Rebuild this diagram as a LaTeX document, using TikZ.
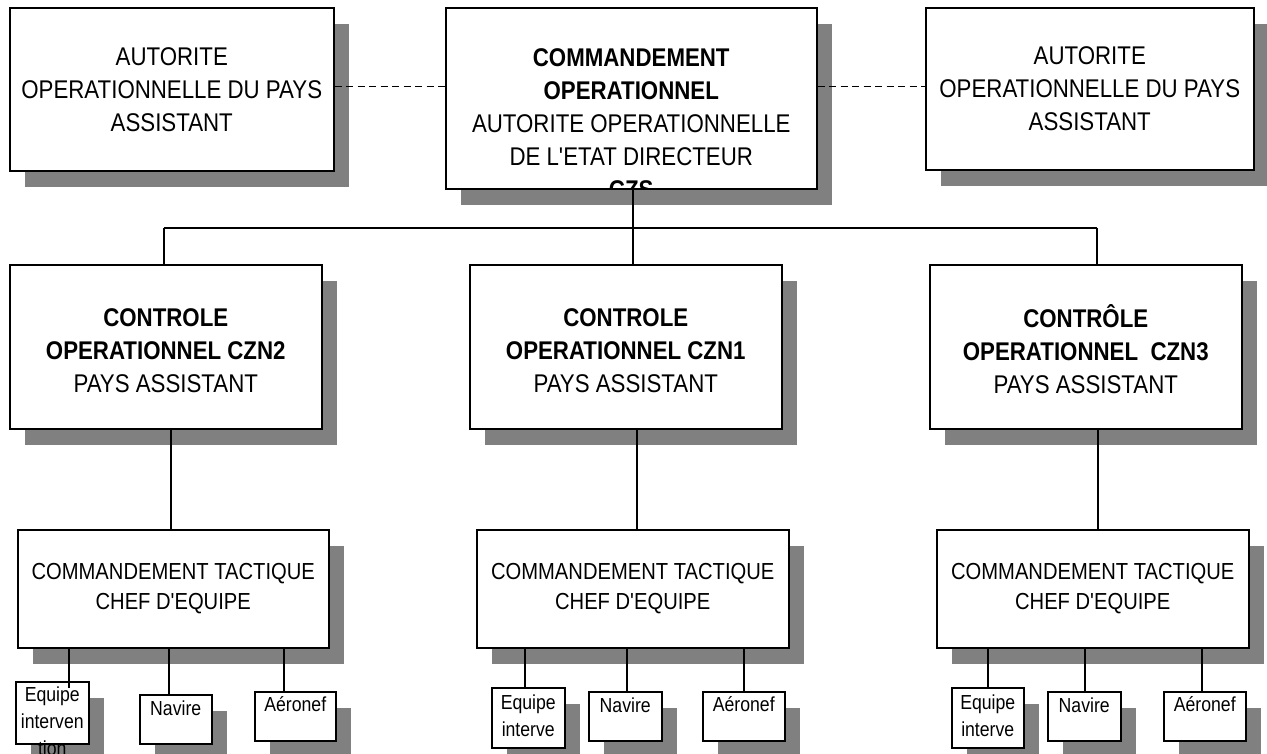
\documentclass[tikz,border=0pt]{standalone}
\usepackage{fontspec}
\setmainfont{Liberation Sans}[FakeStretch=0.87,Ligatures=TeXOff]
\usetikzlibrary{shadows}
\definecolor{shgray}{HTML}{808080}
\tikzset{
  bx/.style={rectangle, draw=black, fill=white, line width=1.5pt, inner sep=0pt, anchor=north west,
    general shadow={fill=shgray, draw=none, shadow xshift=15pt, shadow yshift=-16pt}},
  conn/.style={line width=1.4pt},
  dconn/.style={line width=1.2pt, dash pattern=on 7pt off 4.5pt},
  bigtxt/.style={align=center, inner sep=0pt, font=\fontsize{25.6}{33}\selectfont},
  midtxt/.style={align=center, inner sep=0pt, font=\fontsize{23.2}{30}\selectfont},
  smalltxt/.style={align=center, inner sep=0pt, font=\fontsize{20.3}{27}\selectfont},
}
\begin{document}
\begin{tikzpicture}[x=1pt,y=1pt]
\path[use as bounding box] (0,0) rectangle (1267,-753);
% ---- boxes ----
\node[bx, minimum width=324, minimum height=163] (tl) at (9,-7) {};
\node[bx, minimum width=371, minimum height=181] (tc) at (445,-7) {};
\node[bx, minimum width=328, minimum height=162] (tr) at (925,-7) {};
\node[bx, minimum width=312, minimum height=164] (czn2) at (9,-264) {};
\node[bx, minimum width=312, minimum height=164] (czn1) at (469,-264) {};
\node[bx, minimum width=312, minimum height=164] (czn3) at (929,-264) {};
\node[bx, minimum width=311, minimum height=118] (ct2) at (17,-529) {};
\node[bx, minimum width=312, minimum height=118] (ct1) at (476,-529) {};
\node[bx, minimum width=312, minimum height=118] (ct3) at (936,-529) {};
\node[bx, minimum width=73, minimum height=62] (eqL) at (15,-681) {};
\node[bx, minimum width=72, minimum height=49] (navL) at (139,-694) {};
\node[bx, minimum width=81, minimum height=49] (aerL) at (254,-691) {};
\node[bx, minimum width=73, minimum height=60] (eqC) at (491,-687) {};
\node[bx, minimum width=73, minimum height=49] (navC) at (588,-691) {};
\node[bx, minimum width=82, minimum height=49] (aerC) at (702,-691) {};
\node[bx, minimum width=72, minimum height=60] (eqR) at (951,-687) {};
\node[bx, minimum width=73, minimum height=49] (navR) at (1047,-691) {};
\node[bx, minimum width=82, minimum height=49] (aerR) at (1163,-691) {};
% ---- texts ----
\node[bigtxt] (tlt) at (tl.center) {AUTORITE\\OPERATIONNELLE DU PAYS\\ASSISTANT};
\node[bigtxt] (trt) at (tr.center) {AUTORITE\\OPERATIONNELLE DU PAYS\\ASSISTANT};
\begin{scope}
\clip (tc.south west) rectangle (tc.north east);
\node[bigtxt] (tct) at ([yshift=-117]tc.north) {\textbf{COMMANDEMENT}\\\textbf{OPERATIONNEL}\\AUTORITE OPERATIONNELLE\\DE L'ETAT DIRECTEUR\\\textbf{CZS}};
\end{scope}
\node[bigtxt] (czn2t) at ([yshift=-4]czn2.center) {\textbf{CONTROLE}\\\textbf{OPERATIONNEL CZN2}\\PAYS ASSISTANT};
\node[bigtxt] (czn1t) at ([yshift=-4]czn1.center) {\textbf{CONTROLE}\\\textbf{OPERATIONNEL CZN1}\\PAYS ASSISTANT};
\node[bigtxt] (czn3t) at ([yshift=-2]czn3.center) {\textbf{CONTRÔLE}\\\textbf{OPERATIONNEL~~CZN3}\\PAYS ASSISTANT};
\node[midtxt] (ct2t) at (ct2.center) {COMMANDEMENT TACTIQUE\\CHEF D'EQUIPE};
\node[midtxt] (ct1t) at (ct1.center) {COMMANDEMENT TACTIQUE\\CHEF D'EQUIPE};
\node[midtxt] (ct3t) at (ct3.center) {COMMANDEMENT TACTIQUE\\CHEF D'EQUIPE};
\node[smalltxt, anchor=north] (eqLt) at ([yshift=-5.7]eqL.north) {Equipe\\interven\\tion};
\node[smalltxt, anchor=north] (eqCt) at ([yshift=-8]eqC.north) {Equipe\\interve};
\node[smalltxt, anchor=north] (eqRt) at ([yshift=-8]eqR.north) {Equipe\\interve};
\node[smalltxt] (navLt) at ([yshift=-14]navL.north) {Navire};
\node[smalltxt] (navCt) at ([yshift=-14]navC.north) {Navire};
\node[smalltxt] (navRt) at ([yshift=-14]navR.north) {Navire};
\node[smalltxt] (aerLt) at ([yshift=-13]aerL.north) {Aéronef};
\node[smalltxt] (aerCt) at ([yshift=-13]aerC.north) {Aéronef};
\node[smalltxt] (aerRt) at ([yshift=-13]aerR.north) {Aéronef};
% ---- connectors ----
\draw[dconn] ([yshift=2.5]tl.east) -- ([yshift=2.5]tl.east -| tc.west);
\draw[dconn] ([yshift=2]tr.west -| tc.east) -- ([yshift=2]tr.west);
\coordinate (busL) at (164,-228);
\coordinate (busC) at (633,-228);
\coordinate (busR) at (1097,-228);
\draw[conn] (busL) -- (busR);
\draw[conn] (tc.south -| busC) -- (czn1.north -| busC);
\draw[conn] (busL) -- (czn2.north -| busL);
\draw[conn] (busR) -- (czn3.north -| busR);
\coordinate (v2) at (171,0);
\coordinate (v1) at (637,0);
\coordinate (v3) at (1098,0);
\draw[conn] (czn2.south -| v2) -- (ct2.north -| v2);
\draw[conn] (czn1.south -| v1) -- (ct1.north -| v1);
\draw[conn] (czn3.south -| v3) -- (ct3.north -| v3);
\foreach \xx/\ct/\bb in {69/ct2/eqL,169/ct2/navL,284/ct2/aerL,525/ct1/eqC,627/ct1/navC,744/ct1/aerC,988/ct3/eqR,1085/ct3/navR,1202/ct3/aerR}{
  \coordinate (vv) at (\xx,0);
  \draw[conn] (\ct.south -| vv) -- (\bb.north -| vv);
}
\coordinate (veq) at (69,0);
\draw[conn] (eqL.north -| veq) -- ++(0,-7);
\end{tikzpicture}
\end{document}
